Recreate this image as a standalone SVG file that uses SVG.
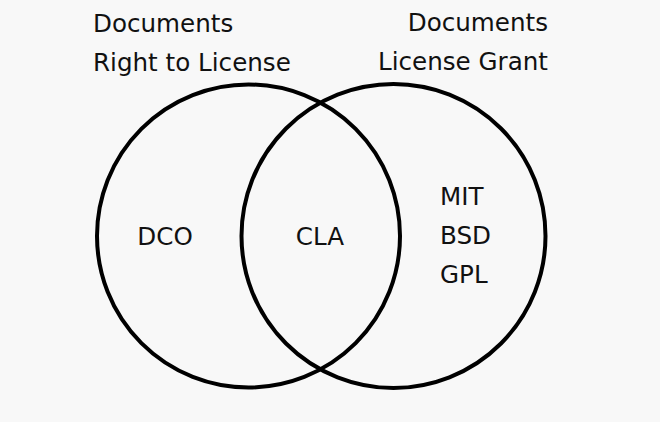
<svg xmlns="http://www.w3.org/2000/svg" width="660" height="422" viewBox="0 0 660 422">
<style>
text{font-family:"DejaVu Sans",sans-serif;font-size:24.6px;fill:#111}
.c{fill:none;stroke:#000;stroke-width:4}
</style>
<rect width="660" height="422" fill="#f8f8f8"/>
<g id="left-set">
<circle class="c" cx="248.5" cy="236" r="151.5"/>
<text x="93" y="32">Documents</text>
<text x="93" y="71">Right to License</text>
<text x="165" y="245" text-anchor="middle">DCO</text>
</g>
<g id="right-set">
<circle class="c" cx="393.5" cy="236" r="152"/>
<text x="548" y="31" text-anchor="end">Documents</text>
<text x="548" y="70" text-anchor="end">License Grant</text>
<text x="440" y="205">MIT</text>
<text x="440" y="244">BSD</text>
<text x="440" y="283">GPL</text>
</g>
<g id="intersection">
<text x="320" y="245" text-anchor="middle">CLA</text>
</g>
<g id="connectors"></g>
</svg>
